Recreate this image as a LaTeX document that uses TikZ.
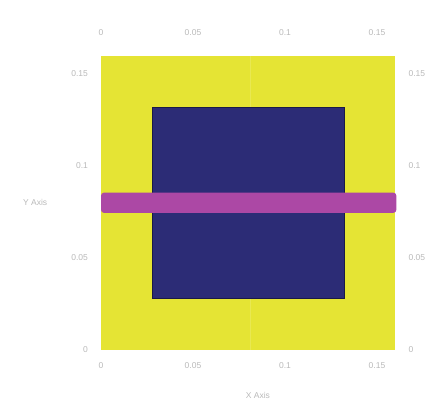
\documentclass[tikz,border=0pt]{standalone}
\usepackage{fontspec}
\setmainfont{Liberation Sans}
\usepackage{xcolor}
\usepackage{tikz}
\usetikzlibrary{positioning, calc}
\definecolor{plotyellow}{RGB}{229, 228, 52}
\definecolor{plotnavy}{RGB}{44, 44, 118}
\definecolor{plotmagenta}{RGB}{172, 72, 165}
\definecolor{ticktext}{RGB}{185, 185, 185}

\begin{document}
\begin{tikzpicture}[
          x=1840pt, y=1840pt,
          tick/.style={text=ticktext, font=\fontsize{8.5}{9}\selectfont, inner sep=1pt},
          axislabel/.style={text=ticktext, font=\fontsize{8.5}{9}\selectfont, inner sep=1pt}
        ]
          \useasboundingbox (-0.0549, -0.0315) rectangle (0.1837, 0.1902);

          % Regions
          \fill[plotyellow] (0, 0) rectangle (0.16, 0.16);
          \draw[white, opacity=0.15, line width=0.6pt] (0.081, 0) -- (0.081, 0.16);
          \fill[plotnavy, draw=plotnavy!60!black, line width=0.5pt] (0.028, 0.028) rectangle (0.132, 0.132);
          \fill[plotmagenta, rounded corners=3pt] (0, 0.0745) rectangle (0.1605, 0.0855);

          % Tick labels, bottom and top
          \foreach \v/\t in {0/0, 0.05/0.05, 0.1/0.1, 0.15/0.15} {
            \node[tick] (bx\t) at (\v, -0.0085) {\t};
            \node[tick] (tx\t) at (\v, 0.1725) {\t};
          }
          % Tick labels, left and right
          \foreach \v/\t in {0/0, 0.05/0.05, 0.1/0.1, 0.15/0.15} {
            \node[tick, anchor=east] (ly\t) at (-0.0065, \v) {\t};
            \node[tick, anchor=west] (ry\t) at (0.1665, \v) {\t};
          }

          % Axis names
          \node[axislabel] (xname) at (0.0853, -0.0245) {X Axis};
          \node[axislabel] (yname) at (-0.0358, 0.0799) {Y Axis};
        \end{tikzpicture}
\end{document}
